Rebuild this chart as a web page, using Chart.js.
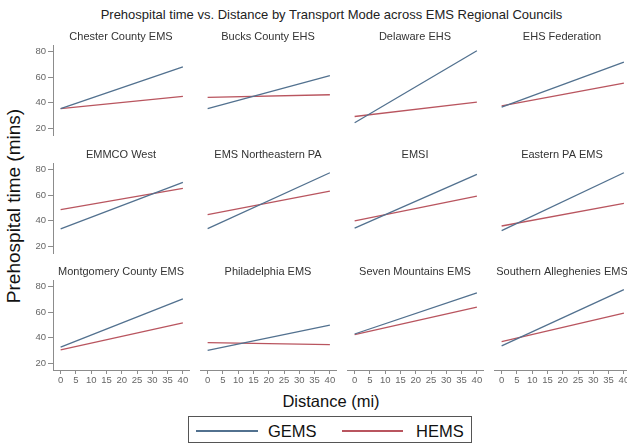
<!DOCTYPE html>
<html>
<head>
<meta charset="utf-8">
<script src="https://cdn.jsdelivr.net/npm/chart.js@4/dist/chart.umd.min.js"></script>
<style>
  html, body { margin: 0; padding: 0; overflow: hidden; background: #fff; }
  #page { position: relative; width: 627px; height: 447px; overflow: hidden; background: #fff;
          font-family: "Liberation Sans", Arial, sans-serif; color: #222; }
  #page canvas { position: absolute; }
  .lbl { position: absolute; white-space: nowrap; }
  #title { left: 0; width: 663px; top: 7px; text-align: center; font-size: 13px; color: #222; }
  #ytitle { left: 14px; top: 206px; font-size: 19px; color: #111; transform: translate(-50%, -50%) rotate(-90deg); }
  #xtitle { left: 331px; top: 401px; font-size: 16.5px; color: #111; transform: translate(-50%, -50%); }
  #legend { position: absolute; left: 188px; top: 416px; width: 284px; height: 27px; border: 1px solid #555; box-sizing: border-box; }
  .swatch { position: absolute; height: 1.5px; top: 13px; }
  .ltext { position: absolute; top: 13.5px; font-size: 16.5px; color: #111; transform: translateY(-50%); }
</style>
</head>
<body>
<div id="page">
  <div class="lbl" id="title">Prehospital time vs. Distance by Transport Mode across EMS Regional Councils</div>
  <div class="lbl" id="ytitle">Prehospital time (mins)</div>
  <div class="lbl" id="xtitle">Distance (mi)</div>
  <div id="legend">
    <div class="swatch" id="sw-gems" style="left:7px;width:62px;"></div>
    <div class="ltext" style="left:79px;">GEMS</div>
    <div class="swatch" id="sw-hems" style="left:153px;width:61px;"></div>
    <div class="ltext" style="left:227px;">HEMS</div>
  </div>
</div>
<script>
// regions, left to right, top to bottom
const regions = [
  "Chester County EMS", "Bucks County EHS", "Delaware EHS", "EHS Federation",
  "EMMCO West", "EMS Northeastern PA", "EMSI", "Eastern PA EMS",
  "Montgomery County EMS", "Philadelphia EMS", "Seven Mountains EMS", "Southern Alleghenies EMS"
];

// fitted line ends at distance 0 and 40 mi
const distances = [0, 40];
const gemsStart = [35.5, 35.5, 24.5, 36.7, 33.7, 34.0, 34.3, 32.4, 32.8, 30.2, 43.0, 33.8];
const gemsEnd   = [68.0, 61.1, 80.5, 71.7, 70.0, 77.4, 76.1, 77.4, 70.3, 49.9, 74.9, 77.5];
const hemsStart = [35.5, 44.2, 29.4, 37.7, 48.7, 44.8, 39.9, 36.0, 30.7, 36.3, 42.5, 37.1];
const hemsEnd   = [45.0, 46.3, 40.6, 55.4, 65.3, 63.2, 59.3, 53.6, 51.6, 34.8, 63.9, 59.3];

const xTicks = [0, 5, 10, 15, 20, 25, 30, 35, 40];
const yTicks = [20, 40, 60, 80];

const gemsColor = "#52718f";
const hemsColor = "#b9555f";
const axisColor = "#8c8c8c";
const tickColor = "#666";
const fontFamily = "'Liberation Sans', Arial, sans-serif";

document.getElementById("sw-gems").style.background = gemsColor;
document.getElementById("sw-hems").style.background = hemsColor;

// panel grid geometry (plot area of each panel)
const colLeft = [53, 200, 347, 494];
const rowTop = [45, 163, 280];
const plotW = 136;
const plotH = 90;
const mLeft = 50, mTop = 20, mRight = 10, mBottom = 24;

const page = document.getElementById("page");

const makePanel = (i) => {
  const col = i % 4;
  const row = Math.floor(i / 4);
  const showY = col === 0;
  const showX = row === 2;

  const canvas = document.createElement("canvas");
  canvas.width = mLeft + plotW + mRight;
  canvas.height = mTop + plotH + mBottom;
  canvas.style.left = (colLeft[col] - mLeft) + "px";
  canvas.style.top = (rowTop[row] - mTop) + "px";
  page.appendChild(canvas);

  new Chart(canvas.getContext("2d"), {
    type: "line",
    data: {
      datasets: [
        {
          label: "GEMS",
          data: distances.map((d, k) => ({ x: d, y: k === 0 ? gemsStart[i] : gemsEnd[i] })),
          borderColor: gemsColor,
          borderWidth: 1.3,
          pointRadius: 0,
        },
        {
          label: "HEMS",
          data: distances.map((d, k) => ({ x: d, y: k === 0 ? hemsStart[i] : hemsEnd[i] })),
          borderColor: hemsColor,
          borderWidth: 1.3,
          pointRadius: 0,
        },
      ],
    },
    options: {
      responsive: false,
      animation: false,
      events: [],
      layout: { padding: { left: 0, top: 0, right: mRight, bottom: 0 } },
      plugins: {
        legend: { display: false },
        tooltip: { enabled: false },
        title: {
          display: true,
          text: regions[i],
          fullSize: false,
          color: "#333",
          font: { family: fontFamily, size: 11, weight: "normal", lineHeight: 1.2 },
          padding: { top: 5.4, bottom: 1.4 },
        },
      },
      scales: {
        x: {
          type: "linear",
          min: -2.5,
          max: 42,
          afterBuildTicks: (scale) => { scale.ticks = xTicks.map((v) => ({ value: v })); },
          afterFit: (scale) => { scale.height = mBottom; },
          border: { display: showX, color: axisColor, width: 1 },
          grid: { display: showX, drawOnChartArea: false, drawTicks: true, tickLength: 4, color: axisColor },
          ticks: {
            display: showX,
            autoSkip: false,
            maxRotation: 0,
            padding: 1,
            color: tickColor,
            font: { family: fontFamily, size: 9.5 },
          },
        },
        y: {
          type: "linear",
          min: 15,
          max: 85,
          afterBuildTicks: (scale) => { scale.ticks = yTicks.map((v) => ({ value: v })); },
          afterFit: (scale) => { scale.width = mLeft; },
          border: { display: showY, color: axisColor, width: 1 },
          grid: { display: showY, drawOnChartArea: false, drawTicks: true, tickLength: 5, color: axisColor },
          ticks: {
            display: showY,
            padding: 2,
            color: tickColor,
            font: { family: fontFamily, size: 9.5 },
          },
        },
      },
    },
  });
};

regions.forEach((r, i) => makePanel(i));
</script>
</body>
</html>
